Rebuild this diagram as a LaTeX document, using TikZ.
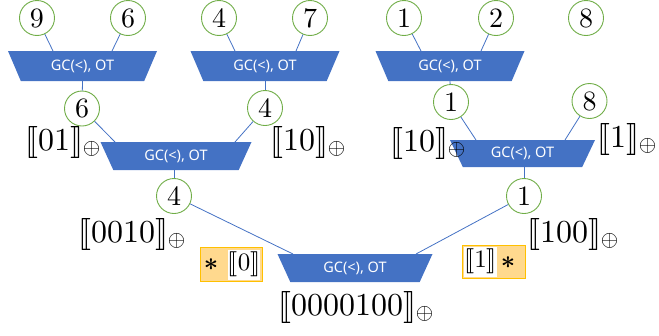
\documentclass[tikz,border=0pt]{standalone}
\usepackage{fix-cm}
\usepackage{fontspec}
\usepackage{stmaryrd}
\DeclareFontFamily{U}{stmry}{}
\DeclareFontShape{U}{stmry}{m}{n}{<-> stmary10}{}
\usetikzlibrary{shapes.geometric,calc}
\newfontfamily\gcfont{Noto Sans}
\newfontfamily\digfont{lmroman10-regular}[Extension=.otf]
\newcommand{\dg}[1]{\mbox{\digfont #1}}
\definecolor{gcblue}{HTML}{4472C4}
\definecolor{cgreen}{HTML}{70AD47}
\definecolor{ofill}{HTML}{FFD98E}
\definecolor{oline}{HTML}{FFC000}
\tikzset{
  val/.style={circle, draw=cgreen, line width=0.9pt, fill=white, minimum size=35pt, inner sep=0pt, font=\digfont\fontsize{28}{28}\selectfont},
  gc/.style={trapezium, trapezium angle=45, trapezium stretches body, shape border rotate=180, fill=gcblue, draw=none, inner sep=0pt, text=white, font=\gcfont\fontsize{14.5}{14.5}\selectfont},
  conn/.style={draw=gcblue, line width=0.8pt},
  lbl/.style={anchor=base west, inner sep=0pt, font=\fontsize{32}{32}\selectfont},
  obox/.style={draw=oline, fill=ofill, line width=0.8pt, inner sep=0pt},
  wbox/.style={fill=white, inner sep=0pt, font=\fontsize{25}{25}\selectfont},
  star/.style={inner sep=0pt, font=\fontsize{25}{25}\selectfont\boldmath},
}
\begin{document}
\begin{tikzpicture}[x=1pt,y=-1pt]
\useasboundingbox (0,0) rectangle (659,335);
% trapezoids
\node[gc, minimum width=149pt, minimum height=30pt] (g1) at (82.5,66) {GC(<), OT};
\node[gc, minimum width=149pt, minimum height=30pt] (g2) at (265,66) {GC(<), OT};
\node[gc, minimum width=149pt, minimum height=30pt] (g3) at (450,66) {GC(<), OT};
\node[gc, minimum width=151pt, minimum height=28pt] (g4) at (176,156) {GC(<), OT};
\node[gc, minimum width=145pt, minimum height=27pt] (g5) at (522.5,153.5) {GC(<), OT};
\node[gc, minimum width=155pt, minimum height=28pt] (g6) at (355,268) {GC(<), OT};
% circles
\node[val] (a9) at (37,18) {9};
\node[val] (a6) at (128,18) {6};
\node[val] (a4) at (219,18) {4};
\node[val] (a7) at (310,18) {7};
\node[val] (a1) at (404,18) {1};
\node[val] (a2) at (496,18) {2};
\node[val] (a8) at (586,18) {8};
\node[val] (b6) at (82,108.5) {6};
\node[val] (b4) at (265,108) {4};
\node[val] (b1) at (451,102) {1};
\node[val] (b8) at (589.5,101) {8};
\node[val] (c4) at (174,196) {4};
\node[val] (c1) at (524,196) {1};
% connectors
\draw[conn] (a9) -- ($(g1.center)+(-29.5,-15)$);
\draw[conn] (a6) -- ($(g1.center)+(29.5,-15)$);
\draw[conn] (a4) -- ($(g2.center)+(-30,-15)$);
\draw[conn] (a7) -- ($(g2.center)+(31,-15)$);
\draw[conn] (a1) -- ($(g3.center)+(-29,-15)$);
\draw[conn] (a2) -- ($(g3.center)+(31,-15)$);
\draw[conn] ($(g1.center)+(0,15)$) -- (b6);
\draw[conn] ($(g2.center)+(0,15)$) -- (b4);
\draw[conn] ($(g3.center)+(0,15)$) -- (b1);
\draw[conn] (b6) -- ($(g4.center)+(-61,-14)$);
\draw[conn] (b4) -- ($(g4.center)+(59,-14)$);
\draw[conn] (b1) -- ($(g5.center)+(-46.5,-13.5)$);
\draw[conn] (b8) -- ($(g5.center)+(42.5,-13.5)$);
\draw[conn] ($(g4.center)+(-2,14)$) -- (c4);
\draw[conn] ($(g5.center)+(1.5,13.5)$) -- (c1);
\draw[conn] (c4) -- ($(g6.center)+(-62,-14)$);
\draw[conn] (c1) -- ($(g6.center)+(61,-14)$);
% labels
\node[lbl] (l1) at (25,150) {$\llbracket \dg{01}\rrbracket_{\oplus}$};
\node[lbl] (l2) at (270,150) {$\llbracket \dg{10}\rrbracket_{\oplus}$};
\node[lbl] (l3) at (390,151) {$\llbracket \dg{10}\rrbracket_{\oplus}$};
\node[lbl] (l4) at (597,147) {$\llbracket \dg{1}\rrbracket_{\oplus}$};
\node[lbl] (l5) at (78,242) {$\llbracket \dg{0010}\rrbracket_{\oplus}$};
\node[lbl] (l6) at (527,242) {$\llbracket \dg{100}\rrbracket_{\oplus}$};
\node[lbl] (l7) at (278,315) {$\llbracket \dg{0000100}\rrbracket_{\oplus}$};
% orange boxes
\node[obox, minimum width=62pt, minimum height=34pt] (o1) at (231,264) {};
\node[wbox, minimum width=32pt, minimum height=30pt] (w1) at (244,264.5) {$\llbracket \dg{0}\rrbracket$};
\node[star] (s1) at (211,265) {$\ast$};
\node[obox, minimum width=63pt, minimum height=33pt] (o2) at (493.5,261.5) {};
\node[wbox, minimum width=33pt, minimum height=30pt] (w2) at (480.5,261.5) {$\llbracket \dg{1}\rrbracket$};
\node[star] (s2) at (508,263) {$\ast$};
\end{tikzpicture}
\end{document}
